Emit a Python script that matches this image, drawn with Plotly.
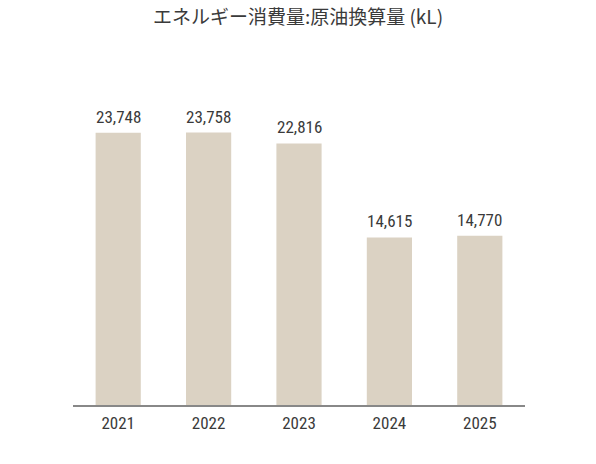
import plotly.graph_objects as go

years = ["2021", "2022", "2023", "2024", "2025"]
values = [23748, 23758, 22816, 14615, 14770]
title_text = "エネルギー消費量:原油換算量 (kL)"

bar_color = "#DBD2C3"
text_color = "#3a3a3a"
font_family = "'Liberation Sans Narrow', 'Roboto Condensed', Roboto, sans-serif"

fig = go.Figure()
fig.add_trace(go.Bar(x=years, y=values, marker_color=bar_color, marker_line_width=0,
                     hoverinfo="skip"))

for i, v in enumerate(values):
    fig.add_annotation(x=i, y=v, text=f"{v:,}", showarrow=False, yanchor="bottom",
                       yshift=4, font=dict(size=17, color=text_color, family=font_family))

fig.update_layout(
    width=596, height=464,
    margin=dict(l=73, r=71, t=61, b=59),
    paper_bgcolor="white", plot_bgcolor="white",
    bargap=0.5,
    showlegend=False,
    title=dict(text=title_text, x=0.5, xanchor="center", y=0.962, yanchor="middle",
               font=dict(size=19, color=text_color, family="'Noto Sans CJK JP', Roboto, sans-serif")),
    xaxis=dict(type="category", range=[-0.5, 4.5], showline=True, linecolor="#888888",
               linewidth=2, ticks="", showgrid=False, ticklabelstandoff=2,
               tickfont=dict(size=17, color=text_color, family=font_family)),
    yaxis=dict(range=[0, 30000], visible=False, showgrid=False),
)

fig.write_html("out.html")
